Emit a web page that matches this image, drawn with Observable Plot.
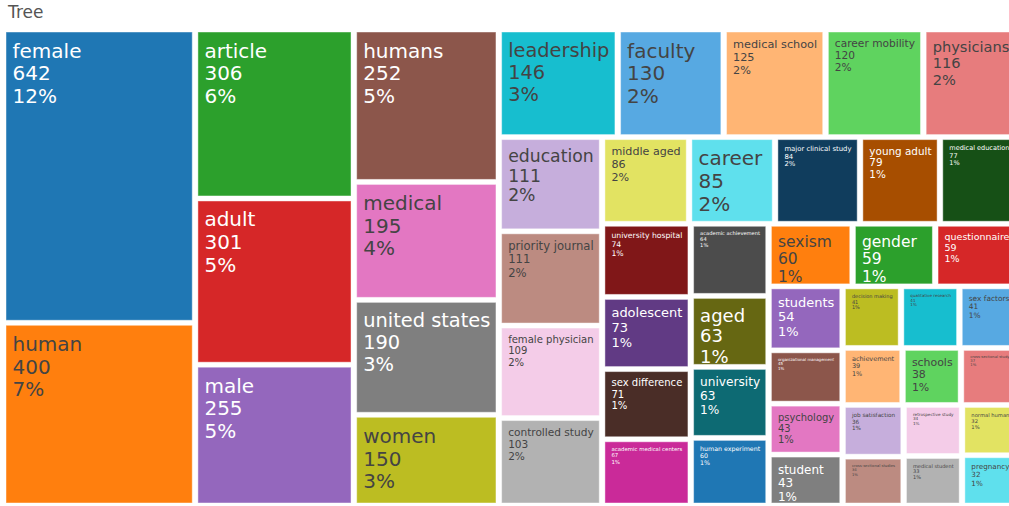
<!DOCTYPE html>
<html><head><meta charset="utf-8">
<script src="https://cdn.jsdelivr.net/npm/d3@7"></script>
<script src="https://cdn.jsdelivr.net/npm/@observablehq/plot@0.6"></script>
<style>
html,body{margin:0;padding:0;overflow:hidden;background:#fff;width:1009px;height:506px;}
#title{position:absolute;left:8px;top:2px;font:17px "DejaVu Sans",Verdana,sans-serif;color:#555;}
#chart{position:absolute;left:0;top:0;}
#chart svg{max-width:none !important;}
</style></head><body>
<div id="chart"></div>
<div id="title">Tree</div>
<script>
const labels = ["female","human","article","adult","male","humans","medical","united states","women","leadership",
  "faculty","medical school","career mobility","physicians","education","priority journal","female physician","controlled study","middle aged","career",
  "major clinical study","young adult","medical education","university hospital","adolescent","sex difference","academic medical centers","academic achievement","aged","university",
  "human experiment","sexism","gender","questionnaire","students","organizational management","psychology","student","decision making","qualitative research",
  "sex factors","achievement","schools","cross-sectional study","job satisfaction","cross-sectional studies","retrospective study","medical student","normal human","pregnancy"];
const values = [642,400,306,301,255,252,195,190,150,146,
  130,125,120,116,111,111,109,103,86,85,
  84,79,77,74,73,71,67,64,63,63,
  60,60,59,59,54,45,43,43,41,41,
  41,39,38,37,36,34,34,33,32,32];
const baseColors = ["#1f77b4","#ff7f0e","#2ca02c","#d62728","#9467bd","#8c564b","#e377c2","#7f7f7f","#bcbd22","#17becf"];

// extended treemap colorway: base, lighten(20), darken(20)
const colorway = [
  ...baseColors,
  ...baseColors.map(c => { const h = d3.hsl(c); h.l = Math.min(1, h.l + 0.2); return h.formatHex(); }),
  ...baseColors.map(c => { const h = d3.hsl(c); h.l = Math.max(0, h.l - 0.2); return h.formatHex(); })
];

const W = 1040, H = 506;
// screen extent of the treemap
const SX0 = 6, SX1 = 1015, SY0 = 32, SY1 = 503;
// layout space (horizontally compressed relative to the screen)
const VW = 890, VH = SY1 - SY0;
const PAD = 5;

const total = d3.sum(values);
const items = labels.map((label, i) => ({label, value: values[i], idx: i}));
const root = d3.hierarchy({children: items}).sum(d => d.value || 0)
  .sort((a, b) => b.value - a.value || a.data.idx - b.data.idx);
d3.treemap().tile(d3.treemapSquarify.ratio(1)).size([VW, VH]).paddingInner(PAD)(root);

const kx = (SX1 - SX0) / VW, ky = (SY1 - SY0) / VH;

const canvas = document.createElement("canvas");
const ctx = canvas.getContext("2d");
const FONT = '"DejaVu Sans", Verdana, sans-serif';
ctx.font = `20px ${FONT}`;
const MAXF = 20, LH = 1.14;

const tiles = root.leaves().map((n, k) => {
  const d = n.data;
  const color = colorway[k % colorway.length];
  const rgb = d3.rgb(color);
  const bright = (rgb.r * 299 + rgb.g * 587 + rgb.b * 114) / 1000;
  const pct = Math.round(100 * d.value / total) + "%";
  const lines = [d.label, String(d.value), pct];
  const tw = d3.max(lines, s => ctx.measureText(s).width);
  const w = (n.x1 - n.x0) * kx, h = (n.y1 - n.y0) * ky;
  const s = Math.min(1, (w - 12) / tw, (h - 6) / (MAXF * (LH * 2 + 1.05)));
  const fs = MAXF * s;
  return {x0: n.x0, x1: n.x1, y0: n.y0, y1: n.y1, color, text: lines.join("\n"), fs,
    tx: n.x0 + 6 / kx,
    ty: n.y0 + (3 + 0.29 * fs) / ky,
    tcolor: bright >= 128 ? "#444" : "#fff"};
});

const chart = Plot.plot({
  width: W, height: H, margin: 0,
  x: {domain: [0, VW], range: [SX0, SX1], axis: null},
  y: {domain: [0, VH], range: [SY0, SY1], axis: null},
  color: {type: "identity"},
  style: {fontFamily: FONT, background: "#fff", maxWidth: "none"},
  marks: [
    Plot.rect(tiles, {x1: "x0", x2: "x1", y1: "y0", y2: "y1", fill: "color", stroke: "#fff", strokeOpacity: 0.45, strokeWidth: 1}),
    Plot.text(tiles, {x: "tx", y: "ty", text: "text", fill: "tcolor", fontSize: "fs",
      textAnchor: "start", lineAnchor: "top", lineHeight: LH})
  ]
});
chart.style.maxWidth = "none";
document.getElementById("chart").appendChild(chart);
</script>
</body></html>
